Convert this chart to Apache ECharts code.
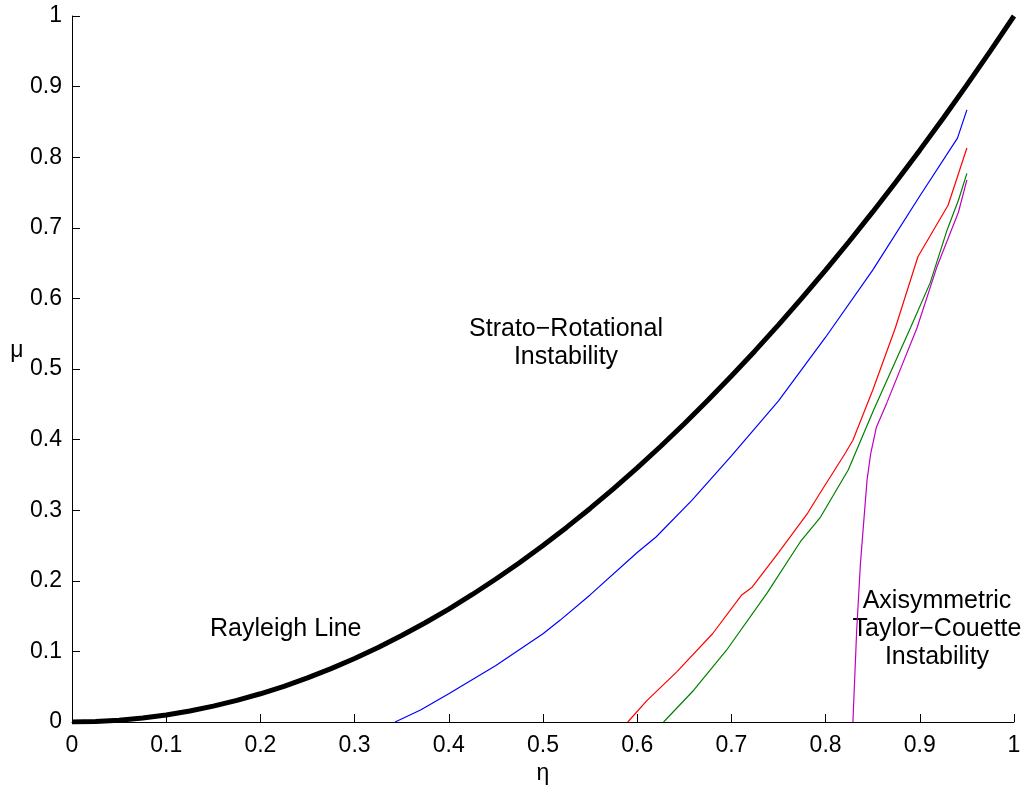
<!DOCTYPE html>
<html>
<head>
<meta charset="utf-8">
<script src="https://cdn.jsdelivr.net/npm/echarts@6/dist/echarts.min.js"></script>
<style>html,body{margin:0;padding:0;background:#fff}#c{width:1033px;height:789px}</style>
</head>
<body>
<div id="c"></div>
<script>
var xTicks = [0, 0.1, 0.2, 0.3, 0.4, 0.5, 0.6, 0.7, 0.8, 0.9, 1];
var yTicks = [0, 0.1, 0.2, 0.3, 0.4, 0.5, 0.6, 0.7, 0.8, 0.9, 1];

var rayleigh = [[0,0],[0.025,0.0006],[0.05,0.0025],[0.075,0.0056],[0.1,0.01],[0.125,0.0156],[0.15,0.0225],[0.175,0.0306],[0.2,0.04],[0.225,0.0506],[0.25,0.0625],[0.275,0.0756],[0.3,0.09],[0.325,0.1056],[0.35,0.1225],[0.375,0.1406],[0.4,0.16],[0.425,0.1806],[0.45,0.2025],[0.475,0.2256],[0.5,0.25],[0.525,0.2756],[0.55,0.3025],[0.575,0.3306],[0.6,0.36],[0.625,0.3906],[0.65,0.4225],[0.675,0.4556],[0.7,0.49],[0.725,0.5256],[0.75,0.5625],[0.775,0.6006],[0.8,0.64],[0.825,0.6806],[0.85,0.7225],[0.875,0.7656],[0.9,0.81],[0.925,0.8556],[0.95,0.9025],[0.975,0.9506],[1,1]];

var blue = [[0.343,0],[0.37,0.017],[0.4,0.04],[0.415,0.052],[0.45,0.08],[0.5,0.125],[0.518,0.144],[0.55,0.18],[0.6,0.24],[0.62,0.262],[0.658,0.314],[0.7,0.377],[0.75,0.455],[0.8,0.545],[0.85,0.64],[0.9,0.745],[0.94,0.827],[0.95,0.867]];

var red = [[0.59,0],[0.61,0.03],[0.642,0.071],[0.68,0.125],[0.711,0.18],[0.722,0.191],[0.75,0.24],[0.781,0.296],[0.794,0.324],[0.821,0.381],[0.829,0.399],[0.85,0.47],[0.874,0.558],[0.898,0.659],[0.93,0.732],[0.95,0.813]];

var green = [[0.628,0],[0.66,0.045],[0.695,0.102],[0.738,0.183],[0.773,0.255],[0.794,0.289],[0.824,0.357],[0.851,0.442],[0.89,0.558],[0.911,0.622],[0.929,0.697],[0.941,0.739],[0.95,0.777]];

var magenta = [[0.829,0],[0.833,0.13],[0.837,0.225],[0.844,0.343],[0.848,0.381],[0.854,0.418],[0.865,0.452],[0.897,0.558],[0.918,0.644],[0.941,0.722],[0.95,0.768]];

var chart = echarts.init(document.getElementById('c'), null, {renderer: 'canvas'});
var font = 'Liberation Sans, Arial, Helvetica, sans-serif';
function axisCommon() {
  return {
    min: 0, max: 1, interval: 0.1,
    axisLine: {show: true, onZero: false, lineStyle: {color: '#000', width: 1}},
    axisTick: {show: true, inside: true, length: 8, lineStyle: {color: '#000', width: 1}},
    splitLine: {show: false},
    axisLabel: {color: '#000', fontSize: 23, fontFamily: font, margin: 10,
      formatter: function (v) { return String(Math.round(v * 10) / 10); }},
    nameTextStyle: {color: '#000', fontSize: 23, fontFamily: font}
  };
}
var xa = axisCommon();
xa.type = 'value'; xa.name = 'η'; xa.nameLocation = 'middle'; xa.nameGap = 35;
xa.axisLabel.margin = 12;
var ya = axisCommon();
ya.type = 'value';

function line(data, color, width) {
  return {type: 'line', data: data, showSymbol: false, symbol: 'none', smooth: false,
    lineStyle: {color: color, width: width}, animation: false, z: 2};
}
function txt(s, x, y, align, size) {
  return {type: 'text', x: x, y: y, style: {text: s, fill: '#000', font: (size || 25) + 'px ' + font,
    textAlign: align || 'center', textVerticalAlign: 'middle'}};
}

chart.setOption({
  backgroundColor: '#fff',
  animation: false,
  grid: {left: 72, right: 19, top: 16, bottom: 67, containLabel: false, outerBoundsMode: 'none'},
  xAxis: xa,
  yAxis: ya,
  series: [
    line(rayleigh, '#000', 5),
    line(blue, '#0000ff', 1.2),
    line(red, '#ff0000', 1.2),
    line(green, '#008000', 1.2),
    line(magenta, '#bf00bf', 1.2)
  ],
  graphic: [
    txt('μ', 17, 351, 'center', 23),
    txt('Strato\u2212Rotational', 566, 329),
    txt('Instability', 566, 357),
    txt('Rayleigh Line', 210, 629, 'left'),
    txt('Axisymmetric', 937, 601),
    txt('Taylor\u2212Couette', 937, 629),
    txt('Instability', 937, 657)
  ]
});
</script>
</body>
</html>
